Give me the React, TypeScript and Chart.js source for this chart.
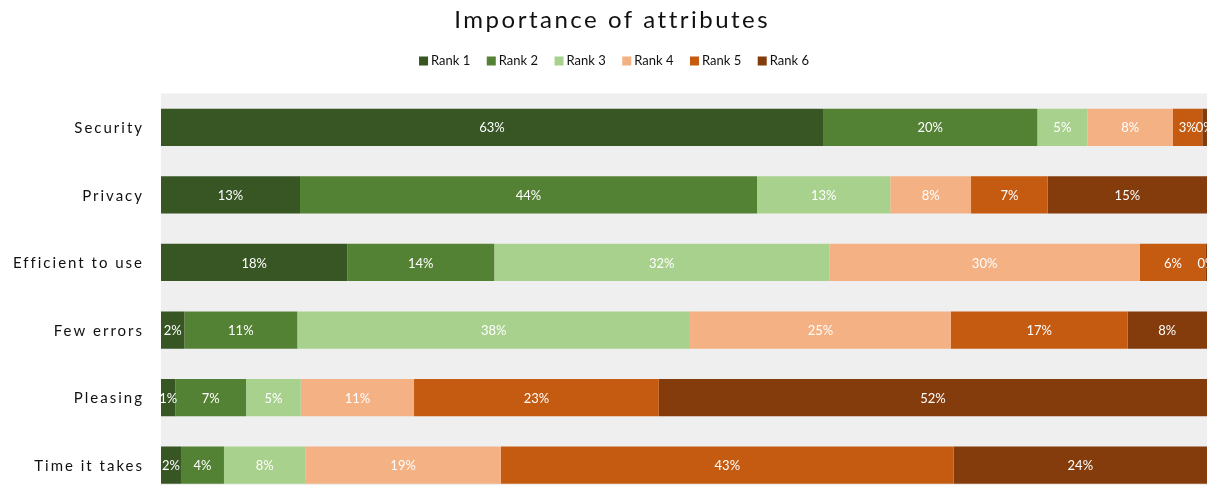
import { useEffect, useRef } from 'react';
import { Chart, registerables } from 'chart.js';

Chart.register(...registerables);

// Attributes, top to bottom
const categories = ['Security', 'Privacy', 'Efficient to use', 'Few errors', 'Pleasing', 'Time it takes'];

// Share of respondents (%) giving each rank to each attribute
const rankNames = ['Rank 1', 'Rank 2', 'Rank 3', 'Rank 4', 'Rank 5', 'Rank 6'];
const rank1 = [63.29, 13.29, 17.81, 2.23, 1.37, 1.91];
const rank2 = [20.49, 43.69, 14.05, 10.8, 6.76, 4.11];
const rank3 = [4.78, 12.74, 32.03, 37.54, 5.23, 7.77];
const rank4 = [8.19, 7.72, 29.7, 24.95, 10.83, 18.71];
const rank5 = [2.8, 7.33, 6.31, 16.89, 23.4, 43.28];
const rank6 = [0.45, 15.23, 0.1, 7.59, 52.41, 24.22];
const rankColors = ['#375623', '#548235', '#A9D18E', '#F4B183', '#C55A11', '#843C0C'];

const chartTitle = 'Importance of attributes';

const FONT = 'Lato, "Open Sans", "Noto Sans", sans-serif';
const TEXT = '#111111';

// Grey fill behind the bars
const plotBackground = {
  id: 'plotBackground',
  beforeDatasetsDraw(chart: any) {
    const { ctx, chartArea } = chart;
    ctx.save();
    ctx.fillStyle = '#efefef';
    ctx.fillRect(chartArea.left, chartArea.top, chartArea.right - chartArea.left, chartArea.bottom - chartArea.top);
    ctx.restore();
  },
};

// Percentage printed in the middle of every segment
const segmentLabels = {
  id: 'segmentLabels',
  afterDatasetsDraw(chart: any) {
    const { ctx } = chart;
    ctx.save();
    ctx.font = `13px ${FONT}`;
    ctx.fillStyle = '#ffffff';
    ctx.textAlign = 'center';
    ctx.textBaseline = 'middle';
    chart.data.datasets.forEach((ds: any, di: number) => {
      const meta = chart.getDatasetMeta(di);
      meta.data.forEach((bar: any, i: number) => {
        const { x, base, y } = bar.getProps(['x', 'base', 'y'], true);
        ctx.fillText(`${Math.round(ds.data[i])}%`, (x + base) / 2, y + 1);
      });
    });
    ctx.restore();
  },
};

// Title, legend and spaced-out category names
const decorations = {
  id: 'decorations',
  afterDraw(chart: any) {
    const { ctx } = chart;
    ctx.save();

    // title
    const titleSpacing = 2.5;
    ctx.font = `24px ${FONT}`;
    (ctx as any).letterSpacing = `${titleSpacing}px`;
    ctx.fillStyle = TEXT;
    ctx.textAlign = 'center';
    ctx.textBaseline = 'alphabetic';
    ctx.fillText(chartTitle, 603 + titleSpacing / 2, 20);

    // category names
    const labelSpacing = 2;
    ctx.font = `15px ${FONT}`;
    (ctx as any).letterSpacing = `${labelSpacing}px`;
    ctx.textAlign = 'right';
    ctx.textBaseline = 'middle';
    const yScale = chart.scales.y;
    chart.data.labels.forEach((lab: string, i: number) => {
      ctx.fillText(lab, 134 + labelSpacing, yScale.getPixelForValue(i) + 1);
    });

    // legend
    (ctx as any).letterSpacing = '0px';
    ctx.font = `13px ${FONT}`;
    const box = 9;
    const gap = 3;
    const itemGap = 16.5;
    const items = chart.data.datasets.map((ds: any) => ({
      text: ds.label,
      color: ds.backgroundColor,
      w: ctx.measureText(ds.label).width,
    }));
    const total =
      items.reduce((s: number, it: any) => s + box + gap + it.w, 0) + itemGap * (items.length - 1);
    let x = 606 - total / 2;
    ctx.textAlign = 'left';
    ctx.textBaseline = 'alphabetic';
    items.forEach((it: any) => {
      ctx.fillStyle = it.color;
      ctx.fillRect(x, 48.5, box, box);
      ctx.fillStyle = TEXT;
      ctx.fillText(it.text, x + box + gap, 57);
      x += box + gap + it.w + itemGap;
    });

    ctx.restore();
  },
};

export default function App() {
  const canvasRef = useRef<HTMLCanvasElement | null>(null);

  useEffect(() => {
    if (!canvasRef.current) return;
    const series = [rank1, rank2, rank3, rank4, rank5, rank6];
    const chart = new Chart(canvasRef.current, {
      type: 'bar',
      data: {
        labels: categories,
        datasets: series.map((values, i) => ({
          label: rankNames[i],
          data: values,
          backgroundColor: rankColors[i],
          borderWidth: 0,
          barPercentage: 0.552,
          categoryPercentage: 1,
        })),
      },
      options: {
        indexAxis: 'y',
        responsive: true,
        maintainAspectRatio: false,
        animation: false,
        layout: { padding: { left: 153, top: 85.5, right: 0, bottom: 0 } },
        scales: {
          x: { stacked: true, min: 0, max: 100, display: false },
          y: { stacked: true, display: false },
        },
        plugins: {
          legend: { display: false },
          title: { display: false },
          tooltip: { enabled: false },
        },
      },
      plugins: [plotBackground, segmentLabels, decorations],
    });
    return () => chart.destroy();
  }, []);

  return (
    <div
      style={{
        position: 'fixed',
        left: 0,
        top: 0,
        width: '100vw',
        height: '100vh',
        overflow: 'hidden',
        background: '#ffffff',
      }}
    >
      <div style={{ position: 'absolute', left: 8, top: 8, width: 1199, height: 491 }}>
        <canvas ref={canvasRef} />
      </div>
    </div>
  );
}
